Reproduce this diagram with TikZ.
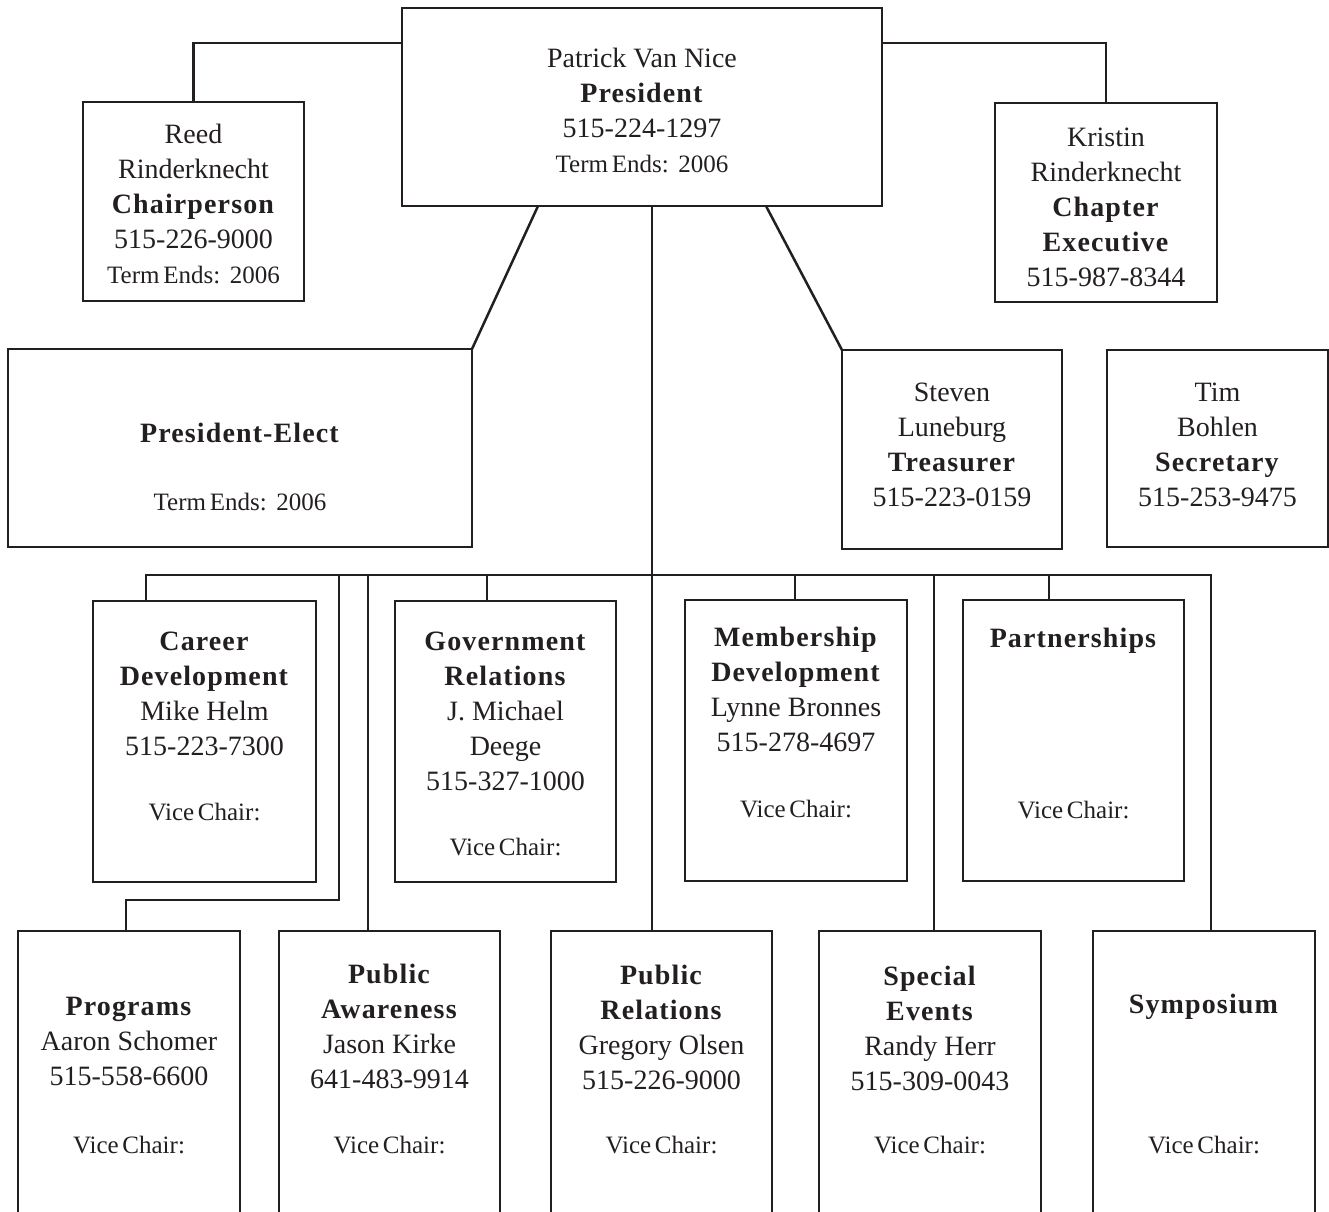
\documentclass[tikz,border=0pt]{standalone}
\usepackage{fontspec}
\setmainfont{Liberation Serif}[BoldFeatures={LetterSpace=4}]
\newfontfamily\termfam{Liberation Serif}[WordSpace=0.6]
\newcommand\regtext{\fontsize{28}{35}\selectfont}
\newcommand\termtext{\termfam\fontsize{25}{35}\selectfont}
\newcommand\firstln{\rule{0pt}{20pt}}
\definecolor{ink}{RGB}{35,31,32}
\begin{document}
\begin{tikzpicture}[x=1pt,y=-1pt,
  box/.style={draw=ink, line width=2.5pt, inner sep=0pt, outer sep=0pt, rectangle},
  lbl/.style={align=center, inner sep=0pt, anchor=north, text=ink, font=\regtext},
  wire/.style={draw=ink, line width=2.5pt}]
\useasboundingbox (0,0) rectangle (1329,1211);
\clip (0,0) rectangle (1329,1211);

% boxes
\node[box, minimum width=480pt, minimum height=198pt] (pres) at (642,107) {};
\node[box, minimum width=221pt, minimum height=199pt] (reed) at (193.5,201.5) {};
\node[box, minimum width=222pt, minimum height=199pt] (kris) at (1106,202.5) {};
\node[box, minimum width=464pt, minimum height=198pt] (pe) at (240,448) {};
\node[box, minimum width=220pt, minimum height=199pt] (treas) at (952,449.5) {};
\node[box, minimum width=221pt, minimum height=197pt] (sec) at (1217.5,448.5) {};
\node[box, minimum width=223pt, minimum height=281pt] (career) at (204.5,741.5) {};
\node[box, minimum width=221pt, minimum height=281pt] (gov) at (505.5,741.5) {};
\node[box, minimum width=222pt, minimum height=281pt] (mem) at (796,740.5) {};
\node[box, minimum width=221pt, minimum height=281pt] (part) at (1073.5,740.5) {};
\node[box, minimum width=222pt, minimum height=300pt] (prog) at (129,1081) {};
\node[box, minimum width=221pt, minimum height=300pt] (aware) at (389.5,1081) {};
\node[box, minimum width=221pt, minimum height=300pt] (prel) at (661.5,1081) {};
\node[box, minimum width=222pt, minimum height=300pt] (spec) at (930,1081) {};
\node[box, minimum width=222pt, minimum height=300pt] (symp) at (1204,1081) {};

% texts
\node[lbl] (presT) at (642,47) {\firstln Patrick Van Nice\\ \textbf{President}\\ 515-224-1297\\ {\termtext Term Ends: ~2006}};
\node[lbl] (reedT) at (193.5,123) {\firstln Reed\\ Rinderknecht\\ \textbf{Chairperson}\\ 515-226-9000\\ {\termtext Term Ends: ~2006}};
\node[lbl] (krisT) at (1106,126) {\firstln Kristin\\ Rinderknecht\\ \textbf{Chapter}\\ \textbf{Executive}\\ 515-987-8344};
\node[lbl] (peT) at (240,422) {\firstln\textbf{President-Elect}\\[33pt] {\termtext Term Ends: ~2006}};
\node[lbl] (treasT) at (952,381) {\firstln Steven\\ Luneburg\\ \textbf{Treasurer}\\ 515-223-0159};
\node[lbl] (secT) at (1217.5,381) {\firstln Tim\\ Bohlen\\ \textbf{Secretary}\\ 515-253-9475};
\node[lbl] (careerT) at (204.5,630) {\firstln\textbf{Career}\\ \textbf{Development}\\ Mike Helm\\ 515-223-7300\\[30pt] {\termtext Vice Chair:}};
\node[lbl] (govT) at (505.5,630) {\firstln\textbf{Government}\\ \textbf{Relations}\\ J. Michael\\ Deege\\ 515-327-1000\\[30pt] {\termtext Vice Chair:}};
\node[lbl] (memT) at (796,626) {\firstln\textbf{Membership}\\ \textbf{Development}\\ Lynne Bronnes\\ 515-278-4697\\[31pt] {\termtext Vice Chair:}};
\node[lbl] (partT) at (1073.5,627) {\firstln\textbf{Partnerships}\\[136pt] {\termtext Vice Chair:}};
\node[lbl] (progT) at (129,995) {\firstln\textbf{Programs}\\ Aaron Schomer\\ 515-558-6600\\[33pt] {\termtext Vice Chair:}};
\node[lbl] (awareT) at (389.5,963) {\firstln\textbf{Public}\\ \textbf{Awareness}\\ Jason Kirke\\ 641-483-9914\\[30pt] {\termtext Vice Chair:}};
\node[lbl] (prelT) at (661.5,964) {\firstln\textbf{Public}\\ \textbf{Relations}\\ Gregory Olsen\\ 515-226-9000\\[29pt] {\termtext Vice Chair:}};
\node[lbl] (specT) at (930,965) {\firstln\textbf{Special}\\ \textbf{Events}\\ Randy Herr\\ 515-309-0043\\[28pt] {\termtext Vice Chair:}};
\node[lbl] (sympT) at (1204,993) {\firstln\textbf{Symposium}\\[105pt] {\termtext Vice Chair:}};

% connector points
\coordinate (busL) at (146,575);
\coordinate (busR) at (1211,575);
\coordinate (busC) at (652,575);
\coordinate (tProg) at (339,575);
\coordinate (elbow) at (126,900);
\coordinate (tAware) at (368,575);
\coordinate (tGov) at (487,575);
\coordinate (tMem) at (795,575);
\coordinate (tSpec) at (934,575);
\coordinate (tPart) at (1049,575);

% connectors
\draw[wire] ([yshift=-35pt]pres.north west) -| (reed.north);
\draw[wire] ([yshift=-35pt]pres.north east) -| (kris.north);
\draw[wire] ([xshift=136pt]pres.south west) -- (pe.north east);
\draw[wire] ([xshift=-116pt]pres.south east) -- (treas.north west);
\draw[wire] (pres.south -| busC) -- (prel.north -| busC);
\draw[wire] (career.north -| busL) -- (busL) -- (busR) -- (symp.north -| busR);
\draw[wire] (tGov) -- (gov.north -| tGov);
\draw[wire] (tMem) -- (mem.north -| tMem);
\draw[wire] (tPart) -- (part.north -| tPart);
\draw[wire] (tAware) -- (aware.north -| tAware);
\draw[wire] (tSpec) -- (spec.north -| tSpec);
\draw[wire] (tProg) -- (tProg |- elbow) -- (elbow) -- (prog.north -| elbow);
\end{tikzpicture}
\end{document}
